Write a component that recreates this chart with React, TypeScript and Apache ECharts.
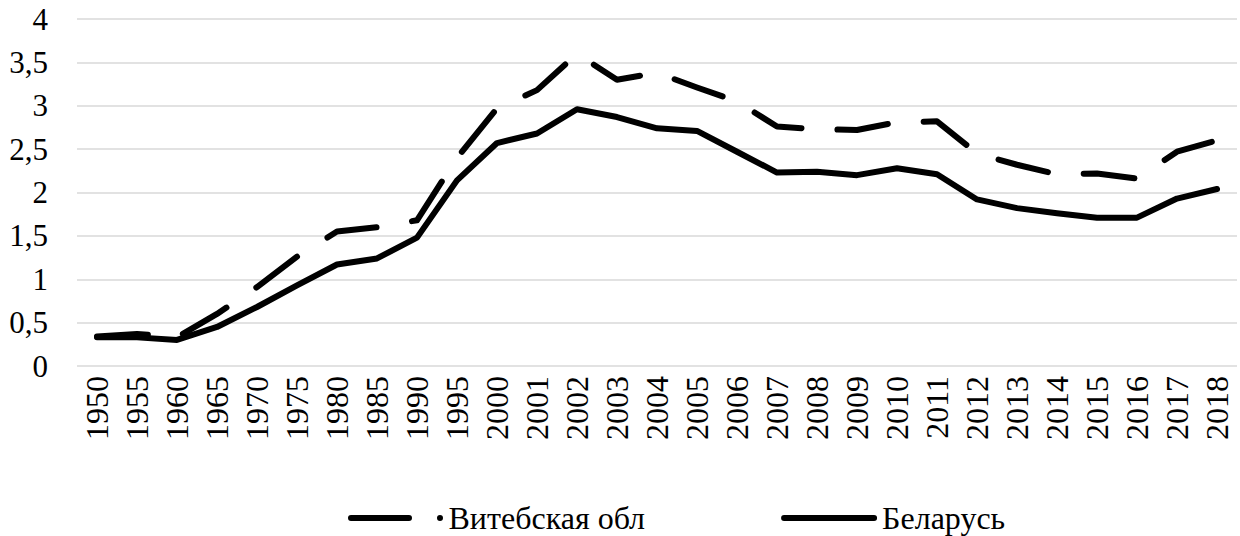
import React, { useEffect, useRef } from "react";
import * as echarts from "echarts";

const years = ["1950","1955","1960","1965","1970","1975","1980","1985","1990","1995","2000","2001","2002","2003","2004","2005","2006","2007","2008","2009","2010","2011","2012","2013","2014","2015","2016","2017","2018"];
const vitebsk = [0.34,0.37,0.33,0.60,0.91,1.26,1.55,1.60,1.68,2.40,2.97,3.18,3.60,3.30,3.38,3.21,3.05,2.76,2.73,2.72,2.81,2.82,2.45,2.32,2.21,2.22,2.16,2.47,2.60];
const belarus = [0.33,0.33,0.30,0.45,0.68,0.93,1.17,1.24,1.48,2.14,2.57,2.68,2.96,2.87,2.74,2.71,2.47,2.23,2.24,2.20,2.28,2.21,1.92,1.82,1.76,1.71,1.71,1.93,2.04];
const seriesNames = ["Витебская обл", "Беларусь"];

const FONT = "'Liberation Serif', 'Times New Roman', serif";

const dashDotIcon =
  "path://M3,0 H61 A3,3 0 0 1 61,6 H3 A3,3 0 0 1 3,0 Z M89,3 A3,3 0 1 0 95,3 A3,3 0 1 0 89,3 Z";
const solidIcon = "path://M3,0 H93 A3,3 0 0 1 93,6 H3 A3,3 0 0 1 3,0 Z";

export default function App() {
  const ref = useRef<HTMLDivElement>(null);
  useEffect(() => {
    if (!ref.current) return;
    const chart = echarts.init(ref.current, null, { renderer: "svg" });
    chart.setOption({
      animation: false,
      backgroundColor: "#ffffff",
      grid: { left: 77, right: 3, top: 19, bottom: 170, containLabel: false },
      legend: {
        left: 343,
        top: 497,
        itemWidth: 96,
        itemHeight: 6,
        itemGap: 136,
        textStyle: { fontFamily: FONT, fontSize: 32, color: "#000" },
        data: [
          { name: seriesNames[0], icon: dashDotIcon, itemStyle: { color: "#000" } },
          { name: seriesNames[1], icon: solidIcon, itemStyle: { color: "#000" } },
        ],
      },
      xAxis: {
        type: "category",
        data: years,
        boundaryGap: true,
        axisLine: { show: false },
        axisTick: { show: false },
        axisLabel: { rotate: 90, margin: 10, interval: 0, fontFamily: FONT, fontSize: 32, color: "#000" },
      },
      yAxis: {
        type: "value",
        min: 0,
        max: 4,
        interval: 0.5,
        axisLine: { show: false },
        axisTick: { show: false },
        splitLine: { lineStyle: { color: "#d9d9d9", width: 1.5 } },
        axisLabel: {
          margin: 29,
          fontFamily: FONT,
          fontSize: 31,
          color: "#000",
          formatter: (v: number) => String(v).replace(".", ","),
        },
      },
      series: [
        {
          name: seriesNames[0],
          type: "line",
          data: vitebsk,
          symbol: "none",
          lineStyle: { color: "#000", width: 6, type: [51, 36], cap: "round", join: "round" },
          itemStyle: { color: "#000" },
        },
        {
          name: seriesNames[1],
          type: "line",
          data: belarus,
          symbol: "none",
          lineStyle: { color: "#000", width: 6, type: "solid", cap: "round", join: "round" },
          itemStyle: { color: "#000" },
        },
      ],
    });
    return () => chart.dispose();
  }, []);
  return (
    <div
      ref={ref}
      style={{ position: "fixed", left: 0, top: 0, width: 1240, height: 536, background: "#fff" }}
    />
  );
}
